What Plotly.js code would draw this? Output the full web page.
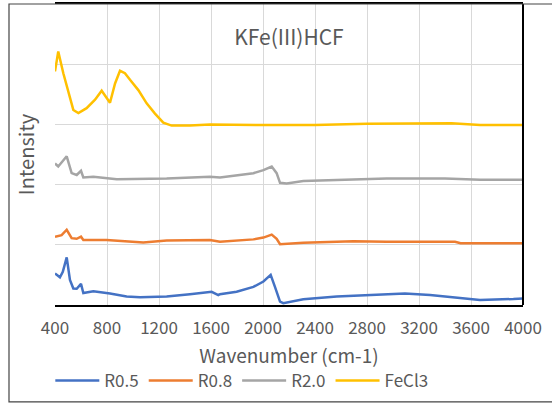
<!DOCTYPE html>
<html>
<head>
<meta charset="utf-8">
<script src="https://cdn.plot.ly/plotly-3.0.1.min.js"></script>
<style>html,body{margin:0;padding:0;background:#fff;}#chart{width:552px;height:404px;}</style>
</head>
<body>
<div id="chart"></div>
<script>
// Data
const seriesNames = ["R0.5", "R0.8", "R2.0", "FeCl3"];

const xR05 = [400, 438, 460, 490, 515, 541, 567, 600, 618, 695, 823, 951, 1054, 1259, 1438, 1605, 1656, 1669, 1797, 1926, 2003, 2059, 2092, 2131, 2156, 2310, 2567, 2892, 3092, 3285, 3413, 3669, 3926, 4000];
const yR05 = [0.525, 0.46, 0.55, 0.79, 0.415, 0.275, 0.27, 0.35, 0.20, 0.23, 0.19, 0.14, 0.13, 0.14, 0.18, 0.22, 0.165, 0.18, 0.22, 0.30, 0.39, 0.50, 0.30, 0.055, 0.03, 0.095, 0.14, 0.165, 0.19, 0.165, 0.14, 0.083, 0.10, 0.11];

const xR08 = [400, 451, 490, 528, 567, 600, 618, 797, 1079, 1259, 1592, 1669, 1926, 2003, 2067, 2105, 2131, 2310, 2695, 2951, 3477, 3520, 4000];
const yR08 = [1.135, 1.16, 1.25, 1.11, 1.10, 1.135, 1.08, 1.08, 1.04, 1.07, 1.08, 1.05, 1.09, 1.12, 1.17, 1.10, 1.01, 1.035, 1.06, 1.05, 1.05, 1.025, 1.025];

const xR20 = [400, 425, 490, 528, 567, 600, 618, 695, 875, 1259, 1592, 1669, 1926, 2003, 2067, 2105, 2131, 2182, 2310, 2567, 2951, 3400, 3670, 4000];
const yR20 = [2.35, 2.30, 2.47, 2.19, 2.16, 2.23, 2.12, 2.13, 2.09, 2.10, 2.13, 2.12, 2.19, 2.24, 2.30, 2.19, 2.03, 2.02, 2.06, 2.08, 2.10, 2.10, 2.08, 2.08];

const xFe = [400, 425, 464, 503, 541, 580, 643, 708, 759, 823, 862, 900, 938, 977, 1041, 1105, 1169, 1233, 1297, 1438, 1592, 2000, 2400, 2800, 3100, 3450, 3670, 4000];
const yFe = [3.88, 4.21, 3.85, 3.52, 3.24, 3.19, 3.27, 3.41, 3.56, 3.36, 3.68, 3.89, 3.85, 3.74, 3.57, 3.35, 3.18, 3.03, 2.98, 2.98, 3.0, 2.99, 2.99, 3.01, 3.02, 3.02, 2.99, 2.99];

const xTicks = [400, 800, 1200, 1600, 2000, 2400, 2800, 3200, 3600, 4000];

const colors = ["#4472C4", "#ED7D31", "#A5A5A5", "#FFC000"];
const xs = [xR05, xR08, xR20, xFe];
const ys = [yR05, yR08, yR20, yFe];

const FONT = '"Noto Sans CJK JP", "Noto Sans", sans-serif';
const TXT = "#595959";

const traces = seriesNames.map((n, i) => ({
  x: xs[i], y: ys[i], name: n, type: "scatter", mode: "lines",
  line: {color: colors[i], width: 2.5}
}));

const layout = {
  width: 552, height: 404,
  margin: {l: 55, r: 29, t: 4, b: 99},
  paper_bgcolor: "#fff", plot_bgcolor: "#fff",
  font: {family: FONT, color: TXT, size: 17},
  title: {text: "KFe(III)HCF", font: {family: FONT, size: 21, color: TXT}, x: 0.5, xref: "paper", y: 0.887, yref: "paper", yanchor: "middle"},
  xaxis: {
    range: [400, 4000], tickvals: xTicks, ticktext: xTicks.map(String),
    showgrid: true, gridcolor: "#d9d9d9", gridwidth: 1,
    showline: true, linecolor: "#000", linewidth: 2, mirror: true,
    zeroline: false, ticks: "", ticklabelstandoff: 7,
    tickfont: {family: FONT, size: 17, color: TXT},
    title: {text: "Wavenumber (cm-1)", font: {family: FONT, size: 19, color: TXT}, standoff: 11}
  },
  yaxis: {
    range: [0, 5], dtick: 1, showticklabels: false,
    showgrid: true, gridcolor: "#d9d9d9", gridwidth: 1,
    zeroline: false, showline: false, ticks: "",
    title: {text: "Intensity", font: {family: FONT, size: 20, color: TXT}, standoff: 14}
  },
  showlegend: true,
  legend: {orientation: "h", x: -0.01, xanchor: "left", y: -0.2525, yanchor: "middle",
    font: {family: FONT, size: 17, color: TXT}, itemwidth: 44,
    bgcolor: "rgba(0,0,0,0)", traceorder: "normal"},
  shapes: [
    {type: "line", xref: "x domain", yref: "y domain", x0: 1, x1: 1, y0: 0, y1: 1, line: {color: "#000", width: 2}},
    {type: "rect", xref: "paper", yref: "paper", x0: -0.0983, x1: 1.2, y0: -0.322, y1: 1.0, line: {color: "#444", width: 1.2}}
  ]
};

Plotly.newPlot("chart", traces, layout, {displayModeBar: false, staticPlot: true});
</script>
</body>
</html>
